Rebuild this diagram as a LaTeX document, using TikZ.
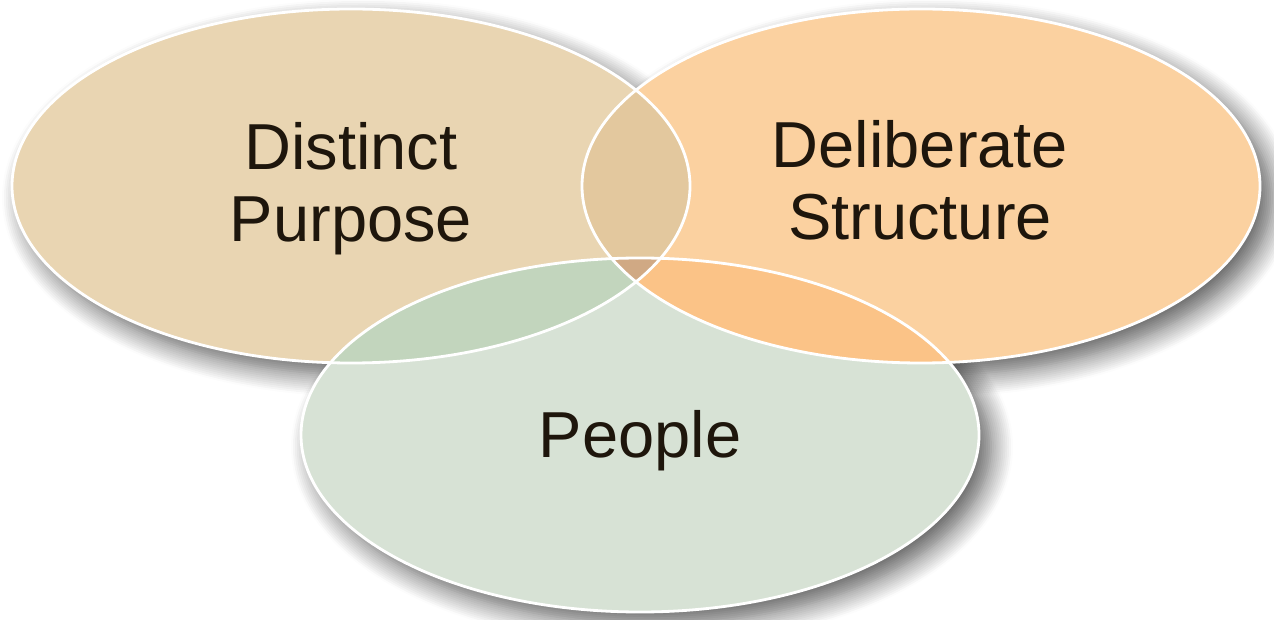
\documentclass[tikz,border=0pt]{standalone}
\usepackage{fontspec}
\setmainfont{Liberation Sans}
\usetikzlibrary{shadows.blur}
\definecolor{cL}{HTML}{E9D5B2}
\definecolor{cR}{HTML}{FBD1A0}
\definecolor{cB}{HTML}{D7E2D5}
\definecolor{cLR}{HTML}{E3C89E}
\definecolor{cLB}{HTML}{C2D5BD}
\definecolor{cRB}{HTML}{FBC387}
\definecolor{cLRB}{HTML}{D0A984}
\definecolor{ink}{HTML}{1E160C}
\tikzset{
  shad/.style={blur shadow={shadow xshift=12pt, shadow yshift=-12pt, shadow blur radius=22pt, shadow opacity=65, shadow blur steps=12}},
  rim/.style={draw=white, line width=2.8pt},
  lbl/.style={font=\fontsize{65}{72}\selectfont, text=ink, align=center, inner sep=0pt, text height=47pt, text depth=14pt}
}
\begin{document}
\begin{tikzpicture}[x=1pt,y=1pt]
\useasboundingbox (0,0) rectangle (1274,619);
\def\ell{ellipse [x radius=339pt, y radius=177pt]}
% shadows
\path[shad] (351,433) \ell;
\path[shad] (921,433) \ell;
\path[shad] (640,184) \ell;
% fills
\fill[cL] (351,433) \ell;
\fill[cR] (921,433) \ell;
\fill[cB] (640,184) \ell;
\begin{scope}
  \clip (351,433) \ell;
  \fill[cLR] (921,433) \ell;
  \fill[cLB] (640,184) \ell;
\end{scope}
\begin{scope}
  \clip (921,433) \ell;
  \fill[cRB] (640,184) \ell;
  \clip (351,433) \ell;
  \fill[cLRB] (640,184) \ell;
\end{scope}
% rims
\draw[rim] (351,433) \ell;
\draw[rim] (921,433) \ell;
\draw[rim] (640,184) \ell;
% labels
\node[lbl] (purpose) at (351,393.5) {Distinct\\Purpose};
\node[lbl] (structure) at (920,395.5) {Deliberate\\Structure};
\node[lbl] (people) at (640,178.5) {People};
\end{tikzpicture}
\end{document}
